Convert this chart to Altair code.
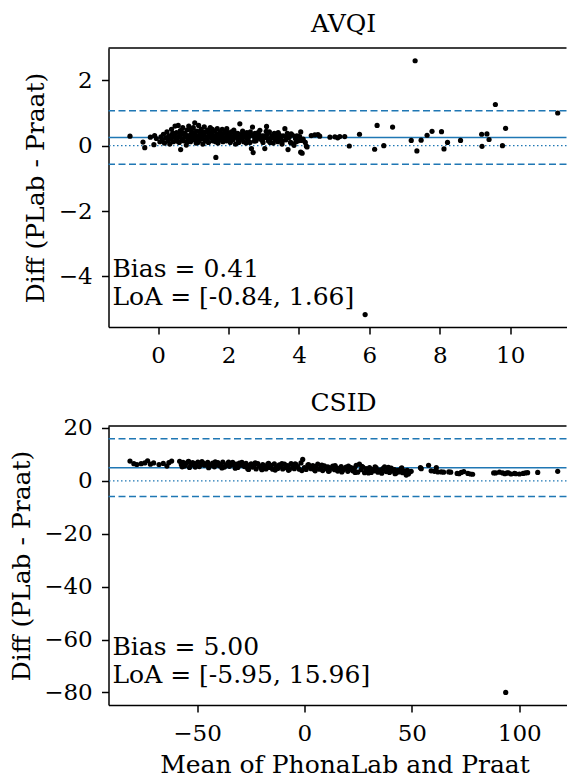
import altair as alt
import pandas as pd

# ---------------- AVQI (top panel) ----------------
avqi_x = [-0.80, -0.43, -0.38, -0.22, -0.12, -0.10, -0.05,
          0.05, 0.08, 0.12, 0.15, 0.18, 0.22, 0.25, 0.28, 0.30,
          0.33, 0.36, 0.38, 0.40, 0.43, 0.46, 0.48, 0.50, 0.52,
          0.55, 0.57, 0.60, 0.62, 0.64, 0.66, 0.68, 0.70, 0.72,
          0.75, 0.77, 0.80, 0.82, 0.85, 0.87, 0.90, 0.92, 0.95,
          0.97, 1.00, 1.02, 1.04, 1.06, 1.08, 1.10, 1.12, 1.15,
          1.17, 1.20, 1.22, 1.24, 1.27, 1.29, 1.31, 1.34, 1.36,
          1.38, 1.41, 1.43, 1.45, 1.48, 1.50, 1.52, 1.55, 1.57,
          1.60, 1.62, 1.64, 1.66, 1.68, 1.70, 1.72, 1.75, 1.77,
          1.80, 1.82, 1.84, 1.87, 1.89, 1.92, 1.94, 1.96, 1.98,
          2.01, 2.03, 2.05, 2.08, 2.10, 2.13, 2.15, 2.18, 2.20,
          2.23, 2.26, 2.28, 2.32, 2.34, 2.37, 2.40, 2.43, 2.46,
          2.49, 2.52, 2.55, 2.58, 2.61, 2.65, 2.68, 2.70, 2.72,
          2.75, 2.78, 2.81, 2.85, 2.89, 2.92, 2.95, 2.98, 3.03,
          3.05, 3.08, 3.10, 3.13, 3.16, 3.20, 3.23, 3.27, 3.30,
          3.33, 3.37, 3.40, 3.44, 3.48, 3.52, 3.55, 3.60, 3.63,
          3.67, 3.69, 3.72, 3.76, 3.79, 3.82, 3.86, 3.90, 3.94,
          3.98, 4.02, 4.05, 4.05, 4.09, 4.12, 4.18, 4.21, 4.23,
          4.35, 4.45, 4.54, 4.59,
          4.88, 5.02, 5.10, 5.16, 5.30, 5.43, 5.72, 5.88,
          6.15, 6.22, 6.41, 6.66, 7.19, 7.30, 7.35, 7.47, 7.64, 7.78,
          8.05, 8.12, 8.22, 8.59, 9.19, 9.20, 9.34, 9.40, 9.58, 9.78,
          9.87, 11.35,
          0.35, 0.45, 0.58, 0.68, 0.78, 0.88, 0.98, 1.09, 1.19, 1.28,
          1.39, 1.49, 1.58, 1.69, 1.79, 1.90, 2.00, 2.11, 2.22, 2.33,
          2.44, 2.56, 2.67, 2.79, 2.90, 3.01, 3.12, 3.24, 3.36, 3.47,
          0.42, 0.53, 0.63, 0.73, 0.83, 0.93, 1.03, 1.13, 1.23, 1.33,
          1.44, 1.54, 1.63, 1.74, 1.85, 1.95, 2.06, 2.17, 2.29, 2.39,
          2.50, 2.62, 2.73, 2.84, 2.96, 3.07, 3.18, 3.29, 3.41, 3.53,
          3.65, 3.78, 3.92, 4.07]
avqi_y = [0.29, 0.11, -0.06, 0.26, 0.03, 0.31, 0.22,
          0.12, 0.27, 0.18, 0.35, 0.08, 0.24, 0.42, 0.15, 0.30,
          0.05, 0.22, 0.50, 0.35, 0.12, 0.28, 0.60, 0.18, 0.40,
          0.25, 0.62, 0.10, 0.33, -0.12, 0.45, 0.22, 0.55, 0.15,
          0.38, 0.28, 0.02, 0.48, 0.20, 0.60, 0.32, 0.12, 0.42,
          0.25, 0.55, 0.18, 0.70, 0.35, 0.08, 0.45, 0.28, 0.62,
          0.15, 0.38, 0.50, 0.22, 0.05, 0.32, 0.58, 0.42, 0.18,
          0.27, 0.48, 0.10, 0.36, 0.55, 0.24, 0.40, 0.15, 0.30,
          0.45, 0.20, -0.36, 0.35, 0.52, 0.08, 0.28, 0.42, 0.18,
          0.32, 0.50, 0.12, 0.38, 0.25, 0.45, 0.15, 0.30, 0.40,
          0.22, 0.35, 0.10, 0.42, 0.28, 0.18, 0.48, 0.32, 0.05,
          0.25, 0.38, 0.15, 0.67, 0.30, 0.20, 0.45, 0.12, 0.35,
          0.25, 0.40, 0.18, 0.30, 0.10, -0.09, 0.57, -0.21, 0.28,
          0.38, 0.15, 0.25, 0.35, 0.47, 0.20, 0.30, 0.10, -0.09,
          0.25, 0.59, 0.35, 0.15, 0.42, 0.22, 0.30, 0.08, 0.38,
          0.18, 0.28, 0.12, 0.33, 0.22, 0.05, 0.30, 0.52, 0.18,
          0.38, -0.12, 0.25, 0.10, 0.08, 0.32, 0.01, 0.22, 0.30,
          0.15, 0.28, 0.42, -0.20, -0.23, 0.20, 0.10, -0.01, -0.04,
          0.31, 0.33, 0.34, 0.29,
          0.26, 0.27, 0.24, 0.28, 0.28, -0.01, 0.35, -5.17,
          -0.11, 0.62, 0.00, 0.57, 0.16, 2.60, -0.16, 0.17, 0.32, 0.44,
          0.43, -0.10, 0.10, 0.16, 0.35, -0.02, 0.36, 0.19, 1.26, 0.00,
          0.53, 1.00,
          0.20, 0.32, 0.26, 0.18, 0.34, 0.24, 0.30, 0.22, 0.28, 0.34,
          0.20, 0.30, 0.26, 0.22, 0.28, 0.20, 0.30, 0.24, 0.30, 0.22,
          0.28, 0.24, 0.32, 0.20, 0.26, 0.30, 0.22, 0.28, 0.24, 0.20,
          0.38, 0.14, 0.46, 0.36, 0.12, 0.50, 0.40, 0.10, 0.44, 0.14,
          0.38, 0.50, 0.12, 0.36, 0.16, 0.52, 0.14, 0.40, 0.10, 0.36,
          0.08, 0.42, 0.14, 0.40, 0.16, 0.44, 0.10, 0.34, 0.40, 0.14,
          0.26, 0.36, 0.12, 0.16]
avqi_bias_line = 0.25
avqi_loa_lines = [-0.57, 1.07]
avqi_xticks = [0, 2, 4, 6, 8, 10]
avqi_yticks = [-4, -2, 0, 2]
avqi_xdomain = [-1.41, 11.60]
avqi_ydomain = [-5.55, 2.99]
avqi_text = ["Bias = 0.41", "LoA = [-0.84, 1.66]"]

# ---------------- CSID (bottom panel) ----------------
csid_x = [-81.2, -79.4, -78.0, -76.0, -74.3, -73.0, -71.7, -70.2, -67.7, -65.7, -64.0, -63.1, -61.8,
          -58.1, -57.3, -56.5, -55.8, -55.0, -54.2, -53.5, -52.7, -52.0, -51.2, -50.4, -49.6, -48.9,
          -48.1, -47.3, -46.5, -45.8, -45.0, -44.2, -43.4, -42.7, -41.9, -41.1, -40.3, -39.6, -38.8,
          -38.0, -37.2, -36.5, -35.7, -34.9, -34.1, -33.4, -32.6, -31.8, -31.0, -30.3, -29.5, -28.7,
          -27.9, -27.2, -26.4, -25.6, -24.8, -24.1, -23.3, -22.5, -21.7, -21.0, -20.2, -19.4, -18.6,
          -17.9, -17.1, -16.3, -15.5, -14.8, -14.0, -13.2, -12.4, -11.7, -10.9, -10.1, -9.3, -8.6,
          -7.8, -7.0, -6.2, -5.5, -4.7, -3.9, -3.1, -2.4, -1.6, -0.8, 0.0, 0.8, 1.6, 2.3, 3.1, 3.9,
          4.7, 5.4, 6.2, 7.0, 7.8, 8.5, 9.3, 10.1, 10.9, 11.6, 12.4, 13.2, 14.0, 14.7, 15.5, 16.3,
          17.1, 17.8, 18.6, 19.4, 20.2, 21.0, 21.7, 22.5, 23.3, 24.1, 24.8, 25.6, 26.4, 27.2, 28.0,
          28.7, 29.5, 30.3, 31.1, 31.8, 32.6, 33.4, 34.2, 35.0, 35.7, 36.5, 37.3, 38.1, 38.8, 39.6,
          40.4, 41.2, 41.9, 42.7, 43.5, 44.3, 45.0, 45.8, 46.6, 47.4, 47.9, 48.9, 49.7,
          54.0, 54.4, 57.8, 59.0, 60.5, 61.4, 62.1, 63.7, 64.8, 67.2, 68.1, 71.1, 72.0, 73.0, 74.2,
          76.1, 77.3, 78.3, 88.1, 89.0, 90.8, 92.3, 93.3, 94.3, 95.0, 96.2, 97.8, 98.4, 100.1, 101.8,
          102.9, 103.9, 108.6, 117.9, 93.7,
          -56.9, -53.9, -50.8, -47.7, -44.6, -41.5, -38.4, -35.3, -32.2, -29.1, -26.0, -22.9, -19.8,
          -16.7, -13.6, -10.5, -7.4, -4.3, -1.2, 1.9, 5.0, 8.1, 11.2, 14.3, 17.4, 20.5, 23.6, 26.7,
          29.8, 32.9, 36.0, 39.1, 42.2, 45.3, 48.4]
csid_y = [7.5, 6.5, 6.2, 6.5, 6.8, 7.6, 6.3, 6.8, 6.2, 6.6, 5.6, 6.9, 7.5,
          7.4, 6.2, 7.0, 5.6, 6.6, 7.2, 5.1, 6.3, 6.9, 5.8, 6.5, 7.1, 5.4,
          6.2, 6.8, 5.9, 6.4, 7.0, 5.5, 6.1, 6.7, 5.3, 6.3, 6.9, 5.7, 6.2,
          7.1, 5.2, 6.0, 6.6, 5.5, 6.4, 7.0, 5.8, 6.3, 5.1, 6.7, 5.9, 6.2,
          5.4, 6.6, 4.6, 5.9, 6.4, 5.2, 6.0, 4.5, 6.5, 5.6, 4.8, 6.2, 5.4,
          4.5, 6.3, 5.1, 5.9, 4.4, 6.4, 5.3, 4.7, 6.1, 5.5, 4.5, 6.3, 5.0,
          5.8, 4.3, 6.5, 5.2, 4.6, 6.2, 5.4, 4.4, 6.8, 8.1, 5.0, 4.3, 6.0, 5.2, 4.6, 5.8,
          4.2, 5.5, 6.3, 4.4, 5.1, 3.9, 5.7, 4.6, 5.3, 3.8, 4.9, 5.6, 4.2, 5.0, 3.7, 4.7,
          5.4, 3.9, 4.6, 5.2, 3.6, 4.4, 5.0, 3.8, 4.8, 5.9, 3.3, 6.3, 4.2, 5.2, 3.1,
          4.6, 3.6, 5.0, 3.2, 4.3, 3.8, 4.9, 3.3, 4.1, 3.6, 4.6, 5.3, 3.5, 4.2, 3.2,
          4.8, 3.7, 4.3, 3.0, 4.0, 3.4, 4.6, 3.1, 3.8, 2.2, 4.0, 3.3, 3.6,
          5.0, 4.6, 5.9, 3.8, 3.6, 5.0, 3.4, 3.4, 3.3, 3.4, 3.3, 2.8, 2.7, 3.2, 3.5,
          2.8, 2.6, 2.5, 3.0, 3.0, 3.3, 3.0, 2.7, 3.0, 3.0, 2.6, 2.8, 2.7, 2.6, 2.8,
          3.0, 3.1, 3.2, 3.6, -80.0,
          5.3, 7.4, 5.2, 7.3, 5.0, 7.2, 4.9, 7.1, 4.8, 7.0, 4.3, 6.8, 4.2,
          6.6, 4.1, 6.5, 4.0, 6.4, 3.9, 6.2, 3.8, 6.0, 3.6, 5.8, 3.4, 5.6, 3.2, 5.5,
          3.0, 5.3, 2.9, 5.1, 2.7, 4.9, 2.6]
csid_bias_line = 5.00
csid_loa_lines = [-5.95, 15.96]
csid_xticks = [-50, 0, 50, 100]
csid_yticks = [-80, -60, -40, -20, 0, 20]
csid_xdomain = [-91.2, 122.0]
csid_ydomain = [-84.75, 20.75]
csid_text = ["Bias = 5.00", "LoA = [-5.95, 15.96]"]

W, H = 458, 279
FONT = "DejaVu Serif"
BLUE = "#1f77b4"


def panel(xs, ys, bias, loa, xticks, yticks, xdom, ydom, texts, title, xtitle, title_offset):
    pts_df = pd.DataFrame({"x": xs, "y": ys})
    xsc = alt.Scale(domain=xdom, nice=False, zero=False)
    ysc = alt.Scale(domain=ydom, nice=False, zero=False)
    if xtitle:
        xax = alt.Axis(values=xticks, title=xtitle, format="d", titleX=W / 2 + 7)
    else:
        xax = alt.Axis(values=xticks, title=None, format="d")
    yax = alt.Axis(values=yticks, title="Diff (PLab - Praat)", format="d")

    pts = alt.Chart(pts_df).mark_circle(size=27, color="black", opacity=1).encode(
        x=alt.X("x:Q", scale=xsc, axis=xax),
        y=alt.Y("y:Q", scale=ysc, axis=yax),
    )
    zero = alt.Chart(pd.DataFrame({"y": [0]})).mark_rule(
        color=BLUE, strokeWidth=1.3, strokeDash=[1.5, 2.5]).encode(y="y:Q")
    loa_r = alt.Chart(pd.DataFrame({"y": loa})).mark_rule(
        color=BLUE, strokeWidth=1.5, strokeDash=[7, 3.5]).encode(y="y:Q")
    bias_r = alt.Chart(pd.DataFrame({"y": [bias]})).mark_rule(
        color=BLUE, strokeWidth=1.5).encode(y="y:Q")
    top_spine = alt.Chart(pd.DataFrame({"a": [0]})).mark_rule(
        color="black", strokeWidth=1.5).encode(
        x=alt.value(0), x2=alt.value(W), y=alt.value(0))
    t1 = alt.Chart(pd.DataFrame({"t": [texts[0]]})).mark_text(
        align="left", baseline="alphabetic", font=FONT, fontSize=25, color="black").encode(
        x=alt.value(4), y=alt.value(H - 50), text="t:N")
    t2 = alt.Chart(pd.DataFrame({"t": [texts[1]]})).mark_text(
        align="left", baseline="alphabetic", font=FONT, fontSize=25, color="black").encode(
        x=alt.value(4), y=alt.value(H - 21.7), text="t:N")
    return alt.layer(zero, loa_r, bias_r, pts, top_spine, t1, t2).properties(
        width=W, height=H,
        title=alt.TitleParams(title, font=FONT, fontSize=25, fontWeight="normal",
                              color="black", offset=title_offset, anchor="middle", dx=6,
                              frame="group"))


top = panel(avqi_x, avqi_y, avqi_bias_line, avqi_loa_lines, avqi_xticks, avqi_yticks,
            avqi_xdomain, avqi_ydomain, avqi_text, "AVQI", None, 10)
bottom = panel(csid_x, csid_y, csid_bias_line, csid_loa_lines, csid_xticks, csid_yticks,
               csid_xdomain, csid_ydomain, csid_text, "CSID", "Mean of PhonaLab and Praat", 1)

chart = alt.vconcat(top, bottom, spacing=23).properties(
    padding={"left": 0.5, "top": 4, "right": 0, "bottom": 0}
).configure_view(stroke=None).configure_axis(
    grid=False, domainColor="black", domainWidth=1.5, tickColor="black", tickWidth=1.5,
    tickSize=7, labelFont=FONT, labelFontSize=23, labelColor="black",
    titleFont=FONT, titleFontSize=25, titleFontWeight="normal", titleColor="black",
    labelPadding=9.3, titlePadding=9.4
).configure_axisX(labelPadding=10, titlePadding=7)

chart.save("out.html", embed_options={"renderer": "svg", "actions": False})
